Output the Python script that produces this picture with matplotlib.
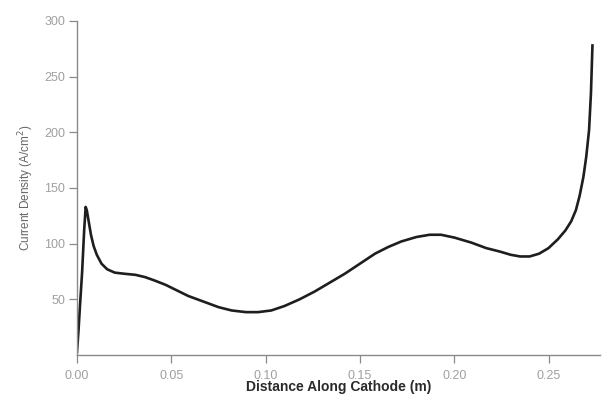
import matplotlib
matplotlib.use("Agg")
import matplotlib.pyplot as plt

plt.rcParams['font.family'] = ['Liberation Sans', 'DejaVu Sans']

distance = [0.000, 0.0008, 0.0015, 0.0027, 0.0038, 0.0046, 0.0052, 0.0062, 0.0074, 0.0088,
            0.0105, 0.0130, 0.0160, 0.0200, 0.0250, 0.0310, 0.0360, 0.0410, 0.0470,
            0.0530, 0.0590, 0.0670, 0.0750, 0.0820, 0.0896, 0.0960, 0.1030, 0.1100,
            0.1180, 0.1260, 0.1340, 0.1420, 0.1500, 0.1580, 0.1650, 0.1720, 0.1800,
            0.1870, 0.1930, 0.2000, 0.2090, 0.2170, 0.2240, 0.2300, 0.2350, 0.2400,
            0.2450, 0.2500, 0.2550, 0.2590, 0.2620, 0.2645, 0.2665, 0.2685, 0.2700,
            0.2715, 0.2725, 0.2733]
current = [3, 22, 42, 74, 112, 133, 130, 120, 108, 98,
           90, 82, 77, 74, 73, 72, 70, 67, 63,
           58, 53, 48, 43, 40, 38.5, 38.5, 40, 44,
           50, 57, 65, 73, 82, 91, 97, 102, 106,
           108, 108, 105.5, 101, 96, 93, 90, 88.5, 88.5,
           91, 96, 104, 112, 120, 130, 143, 160, 178,
           202, 235, 278]

xticks = [0.00, 0.05, 0.10, 0.15, 0.20, 0.25]
xticklabels = ["0.00", "0.05", "0.10", "0.15", "0.20", "0.25"]
yticks = [50, 100, 150, 200, 250, 300]
yticklabels = ["50", "100", "150", "200", "250", "300"]

fig = plt.figure(figsize=(6.02, 3.98), dpi=100)
ax = fig.add_axes([77/602, 43/398, (600-77)/602, (355-21)/398])

ax.plot(distance, current, color="#1e1e1e", linewidth=1.9, solid_joinstyle="round")

ax.set_xlim(0, 0.2773)
ax.set_ylim(0, 300)

for s in ["top", "right"]:
    ax.spines[s].set_visible(False)
for s in ["left", "bottom"]:
    ax.spines[s].set_color("#8a8a8a")
    ax.spines[s].set_linewidth(1.0)

ax.set_xticks(xticks)
ax.set_xticklabels(xticklabels)
ax.set_yticks(yticks)
ax.set_yticklabels(yticklabels)
ax.tick_params(axis="both", direction="out", length=5.5, width=0.9, color="#8a8a8a",
               labelcolor="#a0a0a0", labelsize=9)
ax.tick_params(axis="x", pad=5)
ax.tick_params(axis="y", pad=3)

ax.set_xlabel("Distance Along Cathode (m)", fontsize=10, color="#2a2a2a",
              fontweight="bold", labelpad=-1)
ax.set_ylabel("Current Density (A/cm$^2$)", fontsize=8.5, color="#666666", labelpad=6)

fig.savefig("out.png", dpi=100, facecolor="white")
